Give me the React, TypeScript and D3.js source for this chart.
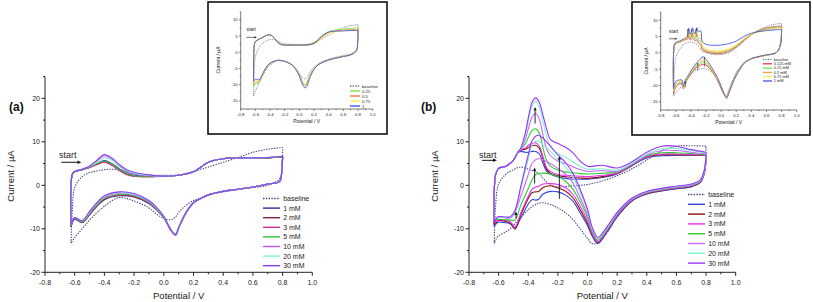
import React from "react";
import * as d3 from "d3";

const FONT = "'Liberation Sans', Arial, Helvetica, sans-serif";

// ---------- panel (a), main plot: potential grids (V) ----------
const aEFwd = [-0.625, -0.615, -0.6, -0.55, -0.5, -0.45, -0.4, -0.35, -0.3, -0.25, -0.2, -0.1, 0, 0.1, 0.2, 0.25, 0.3, 0.4, 0.5, 0.6, 0.7, 0.8];
const aERev = [0.8, 0.795, 0.78, 0.7, 0.6, 0.5, 0.4, 0.3, 0.25, 0.2, 0.15, 0.1, 0.08, 0.05, 0, -0.05, -0.1, -0.2, -0.3, -0.4, -0.45, -0.5, -0.55, -0.6, -0.625];

// currents (µA), forward sweep then reverse sweep
const aBaseFwd = [-13.3, -5.0, -0.5, 2.0, 2.9, 3.3, 3.6, 3.7, 3.5, 3.0, 2.6, 2.3, 2.3, 2.4, 3.2, 3.7, 4.2, 5.3, 6.4, 7.6, 8.3, 8.7];
const aBaseRev = [8.7, 4.0, 1.5, 0.0, -0.5, -1.0, -1.5, -2.2, -2.9, -3.5, -4.6, -6.2, -7.2, -7.9, -7.6, -6.6, -5.2, -3.6, -2.8, -4.8, -6.3, -8.0, -10.0, -12.0, -13.3];
const a1Fwd = [-9.6, 2.6, 3.1, 3.6, 4.2, 5.0, 5.7, 5.0, 3.8, 2.8, 2.3, 2.1, 2.1, 2.3, 3.1, 4.2, 5.3, 6.1, 6.3, 6.2, 6.3, 6.6];
const a1Rev = [6.6, 3.5, 0.9, 0.3, -0.4, -0.9, -1.4, -2.2, -3.0, -4.0, -6.3, -9.8, -11.3, -10.4, -7.4, -5.6, -4.2, -2.7, -2.4, -3.3, -4.8, -6.8, -8.6, -7.8, -9.6];
const a2Fwd = [-9.5, 2.6, 3.1, 3.6, 4.1, 4.8, 5.4, 4.7, 3.5, 2.5, 2.1, 2.0, 2.1, 2.3, 3.1, 4.2, 5.3, 6.1, 6.3, 6.2, 6.3, 6.6];
const a2Rev = [6.6, 3.5, 0.9, 0.3, -0.4, -0.9, -1.4, -2.2, -3.0, -4.0, -6.3, -9.9, -11.5, -10.5, -7.4, -5.5, -4.1, -2.6, -2.3, -3.2, -4.7, -6.7, -8.5, -7.7, -9.5];
const a3Fwd = [-9.4, 2.6, 3.1, 3.6, 4.1, 4.8, 5.3, 4.6, 3.4, 2.5, 2.1, 2.0, 2.1, 2.3, 3.1, 4.2, 5.3, 6.1, 6.3, 6.2, 6.3, 6.6];
const a3Rev = [6.6, 3.5, 0.9, 0.3, -0.4, -0.9, -1.4, -2.2, -3.0, -4.0, -6.3, -9.9, -11.5, -10.5, -7.4, -5.5, -4.0, -2.5, -2.2, -3.1, -4.6, -6.6, -8.4, -7.6, -9.4];
const a5Fwd = [-9.3, 2.6, 3.1, 3.6, 4.2, 5.0, 5.6, 4.9, 3.7, 2.7, 2.2, 2.1, 2.1, 2.3, 3.1, 4.2, 5.3, 6.1, 6.3, 6.2, 6.3, 6.6];
const a5Rev = [6.6, 3.5, 0.9, 0.3, -0.4, -0.9, -1.4, -2.2, -3.0, -4.0, -6.2, -9.8, -11.4, -10.4, -7.3, -5.4, -3.9, -2.4, -2.1, -3.0, -4.5, -6.5, -8.4, -7.6, -9.3];
const a10Fwd = [-9.1, 2.7, 3.2, 3.7, 4.4, 5.6, 6.8, 6.0, 4.4, 3.2, 2.6, 2.2, 2.1, 2.3, 3.1, 4.2, 5.3, 6.1, 6.3, 6.3, 6.4, 6.7];
const a10Rev = [6.7, 3.5, 0.9, 0.3, -0.4, -0.9, -1.4, -2.2, -3.0, -4.0, -6.2, -9.8, -11.4, -10.4, -7.2, -5.2, -3.7, -2.2, -1.8, -2.7, -4.2, -6.3, -8.2, -7.5, -9.1];
const a20Fwd = [-9.0, 2.7, 3.2, 3.7, 4.3, 5.3, 6.3, 5.8, 4.5, 3.4, 2.8, 2.3, 2.1, 2.3, 3.1, 4.2, 5.3, 6.1, 6.3, 6.3, 6.4, 6.7];
const a20Rev = [6.7, 3.5, 0.9, 0.3, -0.4, -0.9, -1.4, -2.2, -3.0, -4.0, -6.2, -9.8, -11.3, -10.3, -7.2, -5.2, -3.6, -2.1, -1.7, -2.6, -4.1, -6.2, -8.2, -7.4, -9.0];
const a30Fwd = [-9.0, 2.7, 3.2, 3.7, 4.4, 5.8, 7.1, 6.3, 4.8, 3.6, 3.0, 2.4, 2.1, 2.3, 3.1, 4.2, 5.3, 6.1, 6.3, 6.3, 6.4, 6.7];
const a30Rev = [6.7, 3.5, 0.9, 0.3, -0.4, -0.9, -1.4, -2.2, -3.0, -4.0, -6.2, -9.7, -11.3, -10.3, -7.1, -5.0, -3.5, -1.9, -1.5, -2.4, -3.9, -6.0, -8.1, -7.4, -9.0];

// ---------- panel (b), main plot ----------
const bEFwd = [-0.63, -0.62, -0.6, -0.55, -0.5, -0.47, -0.45, -0.42, -0.4, -0.375, -0.35, -0.325, -0.3, -0.275, -0.25, -0.2, -0.15, -0.1, -0.05, 0, 0.1, 0.2, 0.3, 0.4, 0.5, 0.6, 0.7, 0.8];
const bERev = [0.8, 0.79, 0.76, 0.7, 0.6, 0.5, 0.4, 0.3, 0.2, 0.15, 0.1, 0.07, 0.03, 0, -0.05, -0.1, -0.15, -0.2, -0.25, -0.3, -0.33, -0.35, -0.375, -0.4, -0.45, -0.49, -0.52, -0.55, -0.6, -0.615, -0.63];

const bBaseFwd = [-13.4, -4.5, 0.3, 2.6, 3.6, 4.1, 4.2, 4.0, 3.7, 3.4, 3.2, 2.6, 1.6, 0.7, 0.1, -0.4, -0.3, -0.1, 0.0, 0.2, 1.0, 2.2, 3.8, 5.8, 7.9, 9.0, 9.1, 9.0];
const bBaseRev = [9.0, 4.0, 1.0, -0.3, -0.8, -1.3, -2.0, -3.6, -7.3, -10.0, -12.4, -13.3, -13.4, -12.2, -10.0, -7.8, -6.3, -5.2, -4.4, -4.0, -4.1, -4.4, -4.9, -5.6, -7.3, -8.8, -9.9, -10.7, -11.6, -12.2, -13.4];
const b1Fwd = [-9.5, 2.5, 3.9, 4.4, 5.8, 7.5, 7.8, 7.6, 7.6, 7.8, 7.8, 7.2, 5.0, 3.2, 2.6, 1.9, 1.6, 1.4, 1.4, 1.4, 1.8, 2.6, 4.5, 6.3, 6.8, 6.9, 6.9, 6.9];
const b1Rev = [6.9, 3.0, 0.6, -0.3, -0.8, -1.3, -2.0, -3.6, -7.2, -9.8, -12.3, -13.4, -11.6, -9.3, -6.3, -3.6, -2.2, -1.5, -1.4, -2.0, -3.2, -3.4, -3.3, -4.3, -7.5, -9.8, -8.9, -8.6, -8.5, -8.8, -9.5];
const b2Fwd = [-9.0, 2.5, 3.9, 4.4, 5.8, 7.6, 8.1, 8.3, 8.7, 9.1, 9.2, 8.5, 6.0, 3.6, 2.8, 2.2, 2.0, 1.8, 1.7, 1.6, 2.0, 2.7, 4.6, 6.5, 7.0, 7.0, 7.0, 6.9];
const b2Rev = [6.9, 3.1, 0.7, -0.2, -0.7, -1.2, -1.9, -3.5, -7.0, -9.6, -12.1, -13.2, -11.3, -8.8, -5.6, -2.8, -1.3, -0.6, -0.1, -0.5, -1.4, -1.5, -1.7, -3.0, -6.8, -10.1, -8.7, -8.3, -8.1, -8.5, -9.0];
const b3Fwd = [-8.5, 2.5, 3.9, 4.4, 5.8, 7.6, 8.2, 8.6, 9.2, 9.6, 9.8, 9.0, 6.5, 4.0, 3.2, 2.5, 2.3, 2.2, 2.1, 2.0, 2.3, 2.8, 4.7, 6.6, 7.2, 7.2, 7.1, 7.0];
const b3Rev = [7.0, 3.2, 0.8, -0.1, -0.6, -1.1, -1.8, -3.4, -6.9, -9.5, -12.0, -13.0, -11.0, -8.2, -4.8, -2.0, -0.5, 0.2, 0.4, 0.3, -0.2, -0.4, -0.9, -2.5, -6.3, -9.6, -8.4, -8.1, -7.9, -8.2, -8.5];
const b5Fwd = [-8.0, 2.5, 3.9, 4.4, 5.8, 7.6, 8.3, 9.5, 11.0, 12.6, 13.0, 12.0, 8.5, 5.6, 4.4, 3.5, 3.1, 2.9, 2.7, 2.6, 2.8, 3.0, 4.8, 6.8, 7.5, 7.5, 7.3, 7.1];
const b5Rev = [7.1, 3.3, 0.9, 0.0, -0.5, -1.0, -1.7, -3.3, -6.7, -9.3, -11.7, -12.7, -10.6, -7.4, -3.8, -0.8, 1.0, 2.0, 2.6, 2.8, 2.7, 2.5, 1.2, -0.8, -4.5, -8.0, -8.0, -7.9, -7.8, -7.9, -8.0];
const b10Fwd = [-7.8, 2.5, 3.9, 4.4, 5.8, 7.6, 8.4, 10.5, 13.0, 15.6, 16.5, 15.2, 11.5, 8.3, 6.8, 5.6, 5.0, 4.3, 3.6, 3.2, 3.4, 3.2, 4.9, 7.0, 8.0, 8.0, 7.6, 7.2];
const b10Rev = [7.2, 3.4, 1.0, 0.1, -0.4, -0.9, -1.6, -3.2, -6.5, -9.0, -11.4, -12.4, -10.2, -6.8, -2.8, 0.6, 2.6, 3.9, 5.0, 5.9, 6.1, 5.9, 5.0, 2.5, -2.5, -6.3, -7.5, -7.5, -7.3, -7.5, -7.8];
const b20Fwd = [-8.3, 2.5, 3.9, 4.4, 5.8, 7.6, 8.5, 11.5, 14.8, 18.2, 19.3, 18.0, 14.5, 11.0, 8.8, 7.3, 6.5, 5.4, 4.4, 3.7, 3.8, 3.5, 5.1, 7.2, 8.4, 8.5, 8.0, 7.4];
const b20Rev = [7.4, 3.6, 1.1, 0.2, -0.3, -0.8, -1.5, -3.0, -6.3, -8.8, -11.2, -12.2, -9.8, -6.0, -1.6, 2.0, 4.3, 6.0, 7.8, 9.3, 10.1, 10.2, 9.2, 6.0, -0.8, -6.0, -7.3, -7.4, -7.3, -7.6, -8.3];
const b30Fwd = [-8.5, 2.5, 3.9, 4.4, 5.8, 7.6, 8.6, 12.0, 15.5, 19.0, 20.1, 19.0, 16.0, 12.8, 10.5, 9.6, 8.8, 7.5, 5.6, 4.4, 4.6, 4.0, 5.4, 7.6, 9.0, 9.0, 8.2, 7.6];
const b30Rev = [7.6, 3.7, 1.2, 0.3, -0.2, -0.7, -1.4, -2.9, -6.2, -8.6, -11.0, -12.0, -9.5, -5.5, -0.9, 2.8, 5.3, 7.0, 9.0, 10.8, 11.5, 11.3, 10.2, 7.0, -0.2, -5.8, -7.2, -7.3, -7.2, -7.6, -8.5];

// ---------- inset of panel (a): uses the aEFwd / aERev grids ----------
const iaBaseFwd = [-13.5, -6, -1.5, 1.5, 2.8, 3.5, 3.9, 4.0, 3.6, 2.9, 2.6, 2.4, 2.3, 2.4, 3.0, 3.5, 4.0, 5.3, 6.5, 7.6, 8.2, 8.5];
const iaBaseRev = [8.5, 3, 0.8, -0.5, -1.0, -1.5, -2.1, -3.0, -3.7, -4.6, -6.0, -7.8, -8.3, -8.0, -6.5, -5.0, -3.9, -2.9, -2.7, -4.0, -5.3, -7.2, -9.5, -12.0, -13.5];
const ia025Fwd = [-10.5, 2.0, 3.3, 4.0, 4.6, 5.2, 5.4, 4.6, 3.2, 2.4, 2.2, 2.2, 2.2, 2.3, 3.0, 4.0, 5.0, 6.4, 6.9, 7.2, 7.4, 7.5];
const ia025Rev = [7.5, 3, 0.5, -0.8, -1.3, -1.8, -2.4, -3.3, -4.0, -5.0, -6.8, -9.4, -10.0, -9.4, -6.8, -5.0, -3.9, -2.8, -2.5, -3.5, -4.8, -7.0, -9.3, -9.8, -10.5];
const ia05Fwd = [-10.0, 2.0, 3.3, 4.0, 4.6, 5.1, 5.3, 4.5, 3.1, 2.4, 2.2, 2.2, 2.2, 2.2, 2.8, 3.6, 4.6, 6.1, 6.6, 6.8, 7.0, 7.1];
const ia05Rev = [7.1, 3, 0.5, -0.8, -1.3, -1.8, -2.4, -3.3, -4.0, -5.1, -7.0, -9.8, -10.3, -9.7, -7.0, -5.1, -3.9, -2.8, -2.5, -3.4, -4.7, -7.0, -9.0, -9.3, -10.0];
const ia075Fwd = [-9.5, 2.0, 3.2, 3.9, 4.5, 5.1, 5.3, 4.5, 3.1, 2.3, 2.1, 2.1, 2.1, 2.1, 2.6, 3.3, 4.2, 5.8, 6.4, 6.6, 6.7, 6.8];
const ia075Rev = [6.8, 3, 0.5, -0.8, -1.3, -1.8, -2.4, -3.3, -4.0, -5.2, -7.2, -10.2, -10.6, -10.0, -7.2, -5.2, -3.9, -2.8, -2.5, -3.4, -4.6, -6.8, -8.8, -8.9, -9.5];
const ia1Fwd = [-9.0, 2.0, 3.3, 4.0, 4.6, 5.2, 5.4, 4.6, 3.2, 2.4, 2.2, 2.2, 2.2, 2.2, 2.7, 3.5, 4.8, 6.2, 6.5, 6.6, 6.7, 6.7];
const ia1Rev = [6.7, 3, 0.5, -0.8, -1.3, -1.8, -2.4, -3.3, -4.0, -5.3, -7.5, -10.6, -11.0, -10.3, -7.4, -5.3, -3.9, -2.8, -2.5, -3.4, -4.5, -6.6, -8.5, -8.3, -9.0];

// ---------- inset of panel (b) ----------
const ibEFwd = [-0.63, -0.62, -0.6, -0.55, -0.5, -0.45, -0.43, -0.41, -0.38, -0.35, -0.32, -0.3, -0.27, -0.25, -0.2, -0.1, 0, 0.1, 0.2, 0.3, 0.4, 0.5, 0.6, 0.7, 0.8];
const ibERev = [0.8, 0.79, 0.75, 0.7, 0.6, 0.5, 0.4, 0.3, 0.25, 0.2, 0.15, 0.1, 0.07, 0.03, 0, -0.05, -0.1, -0.15, -0.2, -0.24, -0.3, -0.35, -0.4, -0.45, -0.47, -0.5, -0.52, -0.55, -0.6, -0.63];
const ibBaseFwd = [-13.3, -6.0, -1.5, 1.0, 2.5, 3.2, 3.3, 3.3, 3.2, 3.0, 2.6, 2.0, 1.0, 0.5, 0.0, -0.5, -0.5, 0.0, 1.5, 3.5, 5.5, 7.0, 8.0, 8.7, 9.0];
const ibBaseRev = [9.0, 3.5, 0.5, -0.3, -0.7, -1.2, -1.8, -3.0, -4.5, -6.0, -8.5, -11.5, -13.0, -12.5, -11.0, -8.5, -6.5, -5.5, -5.0, -4.8, -5.0, -5.5, -6.5, -7.8, -8.5, -9.5, -10.0, -11.0, -12.2, -13.3];
const ib0125Fwd = [-12.5, 2.0, 2.8, 3.2, 3.8, 4.2, 4.6, 4.0, 4.5, 3.8, 4.0, 3.0, 2.5, 1.0, 0.3, -0.2, -0.2, 0.4, 1.8, 3.8, 5.6, 6.8, 7.6, 8.0, 8.2];
const ib0125Rev = [8.2, 3.3, 0.5, -0.3, -0.7, -1.2, -1.8, -3.1, -4.6, -6.5, -9.0, -12.0, -13.5, -12.3, -10.8, -8.2, -6.3, -4.8, -3.8, -3.5, -4.2, -5.0, -6.5, -8.3, -9.0, -11.0, -9.5, -9.5, -10.5, -12.5];
const ib025Fwd = [-12.0, 2.1, 2.9, 3.3, 3.9, 4.4, 5.4, 4.3, 5.3, 4.2, 5.0, 3.8, 3.6, 1.5, 0.6, 0.1, 0.1, 0.7, 2.0, 4.0, 5.6, 6.7, 7.4, 7.8, 8.0];
const ib025Rev = [8.0, 3.2, 0.5, -0.3, -0.7, -1.2, -1.8, -3.1, -4.7, -6.6, -9.1, -12.2, -13.6, -12.2, -10.6, -8.0, -6.1, -4.5, -3.3, -2.9, -3.8, -4.7, -6.2, -8.1, -8.7, -10.8, -9.2, -9.2, -10.0, -12.0];
const ib05Fwd = [-11.8, 2.1, 2.9, 3.3, 3.9, 4.5, 6.0, 4.6, 6.0, 4.6, 5.8, 4.4, 4.5, 1.8, 0.8, 0.3, 0.3, 0.9, 2.2, 4.1, 5.6, 6.5, 7.1, 7.5, 7.8];
const ib05Rev = [7.8, 3.2, 0.5, -0.3, -0.7, -1.2, -1.8, -3.2, -4.8, -6.7, -9.2, -12.3, -13.7, -12.1, -10.5, -7.9, -5.9, -4.2, -2.9, -2.4, -3.4, -4.4, -6.0, -7.9, -8.5, -10.6, -8.9, -8.9, -9.6, -11.8];
const ib075Fwd = [-11.5, 2.2, 3.0, 3.4, 4.0, 4.7, 6.8, 5.0, 6.8, 5.1, 6.7, 5.3, 5.5, 2.3, 1.2, 0.7, 0.7, 1.3, 2.5, 4.3, 5.7, 6.4, 6.9, 7.2, 7.5];
const ib075Rev = [7.5, 3.1, 0.5, -0.2, -0.6, -1.1, -1.8, -3.2, -4.9, -6.8, -9.3, -12.4, -13.8, -12.0, -10.3, -7.7, -5.7, -3.9, -2.5, -1.8, -3.0, -4.1, -5.8, -7.7, -8.3, -10.4, -8.6, -8.6, -9.1, -11.5];
const ib1Fwd = [-11.0, 2.4, 3.2, 3.6, 4.2, 5.0, 7.6, 5.6, 7.7, 5.8, 7.7, 6.4, 6.8, 3.5, 2.6, 2.3, 2.4, 2.8, 3.6, 5.0, 6.0, 6.5, 6.8, 7.0, 7.2];
const ib1Rev = [7.2, 3.0, 0.5, -0.2, -0.6, -1.1, -1.8, -3.3, -5.0, -7.0, -9.5, -12.5, -13.9, -12.0, -10.2, -7.5, -5.5, -3.5, -2.0, -1.2, -2.5, -3.8, -5.5, -7.5, -8.0, -10.2, -8.3, -8.3, -8.7, -11.0];

// tick values
const mainXTicks = [-0.8, -0.6, -0.4, -0.2, 0.0, 0.2, 0.4, 0.6, 0.8, 1.0];
const mainXMinor = [-0.7, -0.5, -0.3, -0.1, 0.1, 0.3, 0.5, 0.7, 0.9];
const mainYTicks = [-20, -10, 0, 10, 20];
const mainYMinor = [-15, -5, 5, 15, 25];
const insetYTicks = [-15, -10, -5, 0, 5, 10];
const insetYMinor = [-12.5, -7.5, -2.5, 2.5, 7.5, 12.5];

type Series = { name: string; color: string; fwd: number[]; rev: number[]; dotted?: boolean };

const seriesA: Series[] = [
  { name: "baseline", color: "#3c3c7a", dotted: true, fwd: aBaseFwd, rev: aBaseRev },
  { name: "1 mM", color: "#2c2ca6", fwd: a1Fwd, rev: a1Rev },
  { name: "2 mM", color: "#8b1c40", fwd: a2Fwd, rev: a2Rev },
  { name: "3 mM", color: "#d42a9a", fwd: a3Fwd, rev: a3Rev },
  { name: "5 mM", color: "#33c433", fwd: a5Fwd, rev: a5Rev },
  { name: "10 mM", color: "#c050f0", fwd: a10Fwd, rev: a10Rev },
  { name: "20 mM", color: "#7ff2cf", fwd: a20Fwd, rev: a20Rev },
  { name: "30 mM", color: "#8a3cf5", fwd: a30Fwd, rev: a30Rev },
];
const seriesB: Series[] = [
  { name: "baseline", color: "#3c3c7a", dotted: true, fwd: bBaseFwd, rev: bBaseRev },
  { name: "1 mM", color: "#3344dd", fwd: b1Fwd, rev: b1Rev },
  { name: "2 mM", color: "#8c1010", fwd: b2Fwd, rev: b2Rev },
  { name: "3 mM", color: "#e633e6", fwd: b3Fwd, rev: b3Rev },
  { name: "5 mM", color: "#2ecc2e", fwd: b5Fwd, rev: b5Rev },
  { name: "10 mM", color: "#cc66ff", fwd: b10Fwd, rev: b10Rev },
  { name: "20 mM", color: "#80f2d5", fwd: b20Fwd, rev: b20Rev },
  { name: "30 mM", color: "#9933ff", fwd: b30Fwd, rev: b30Rev },
];
const seriesIA: Series[] = [
  { name: "baseline", color: "#666666", dotted: true, fwd: iaBaseFwd, rev: iaBaseRev },
  { name: "0.25", color: "#66ee33", fwd: ia025Fwd, rev: ia025Rev },
  { name: "0.5", color: "#ff6a3a", fwd: ia05Fwd, rev: ia05Rev },
  { name: "0.75", color: "#ffee33", fwd: ia075Fwd, rev: ia075Rev },
  { name: "1", color: "#3344ff", fwd: ia1Fwd, rev: ia1Rev },
];
const seriesIB: Series[] = [
  { name: "baseline", color: "#666666", dotted: true, fwd: ibBaseFwd, rev: ibBaseRev },
  { name: "0.125 mM", color: "#e8203a", fwd: ib0125Fwd, rev: ib0125Rev },
  { name: "0.25 mM", color: "#55e055", fwd: ib025Fwd, rev: ib025Rev },
  { name: "0.5 mM", color: "#ff9944", fwd: ib05Fwd, rev: ib05Rev },
  { name: "0.75 mM", color: "#ffee44", fwd: ib075Fwd, rev: ib075Rev },
  { name: "1 mM", color: "#3344ee", fwd: ib1Fwd, rev: ib1Rev },
];

// arrows marking growth with concentration: [potential, from, to]
const arrowsB = [[-0.354, 14.2, 18.0], [-0.357, 0.4, 4.1], [-0.19, -3.1, 6.7], [-0.483, -7.6, -6.0]];
const arrowsIB = [[-0.44, 4.8, 7.3], [-0.385, 4.8, 7.3], [-0.33, 5.0, 7.5], [-0.31, -5.5, -3.0], [-0.22, -4.2, -1.2], [-0.47, -10.5, -8.7]];

type Lin = d3.ScaleLinear<number, number>;

function Curves({ x, y, eFwd, eRev, series, sw }: { x: Lin; y: Lin; eFwd: number[]; eRev: number[]; series: Series[]; sw: number }) {
  const line = d3.line<[number, number]>()
    .x((d) => x(d[0]))
    .y((d) => y(d[1]))
    .curve(d3.curveCatmullRom.alpha(0.5));
  return (
    <g fill="none" strokeLinejoin="round">
      {series.map((s) => {
        const pts: [number, number][] = [
          ...eFwd.map((e, i) => [e, s.fwd[i]] as [number, number]),
          ...eRev.map((e, i) => [e, s.rev[i]] as [number, number]),
        ];
        return (
          <path key={s.name} d={line(pts) || ""} stroke={s.color} strokeWidth={sw}
            strokeDasharray={s.dotted ? `${sw * 1.2} ${sw * 1.2}` : undefined} />
        );
      })}
    </g>
  );
}

function Axes({ x, y, xTicks, xMinor, yTicks, yMinor, fs, major, minor, xLabelGap, yLabelGap, digitsX }:
  { x: Lin; y: Lin; xTicks: number[]; xMinor: number[]; yTicks: number[]; yMinor: number[]; fs: number; major: number; minor: number; xLabelGap: number; yLabelGap: number; digitsX: number }) {
  const [x0, x1] = x.range();
  const [y0, y1] = y.range();
  const sw = fs > 6 ? 1 : 0.6;
  return (
    <g>
      <g stroke="#222" strokeWidth={sw}>
        <line x1={x0} x2={x0} y1={y0} y2={y1} />
        <line x1={x0} x2={x1} y1={y0} y2={y0} />
        {xTicks.map((v) => <line key={"xt" + v} x1={x(v)} x2={x(v)} y1={y0} y2={y0 + major} />)}
        {xMinor.map((v) => <line key={"xm" + v} x1={x(v)} x2={x(v)} y1={y0} y2={y0 + minor} />)}
        {yTicks.map((v) => <line key={"yt" + v} x1={x0} x2={x0 - major} y1={y(v)} y2={y(v)} />)}
        {yMinor.map((v) => <line key={"ym" + v} x1={x0} x2={x0 - minor} y1={y(v)} y2={y(v)} />)}
      </g>
      <g fontFamily={FONT} fontSize={fs} fill="#222">
        {xTicks.map((v) => (
          <text key={"xl" + v} x={x(v)} y={y0 + xLabelGap} textAnchor="middle">{v.toFixed(digitsX)}</text>
        ))}
        {yTicks.map((v) => (
          <text key={"yl" + v} x={x0 - yLabelGap} y={y(v)} dy="0.35em" textAnchor="end">{String(v)}</text>
        ))}
      </g>
    </g>
  );
}

function Legend({ series, x, y0, step, len, fs, sw }: { series: Series[]; x: number; y0: number; step: number; len: number; fs: number; sw: number }) {
  return (
    <g fontFamily={FONT} fontSize={fs} fill="#222">
      {series.map((s, i) => {
        const yy = y0 + i * step;
        return (
          <g key={s.name}>
            <line x1={x} x2={x + len} y1={yy} y2={yy} stroke={s.color} strokeWidth={sw}
              strokeDasharray={s.dotted ? `${sw} ${sw}` : undefined} />
            <text x={x + len + fs * 0.45} y={yy} dy="0.35em">{s.name}</text>
          </g>
        );
      })}
    </g>
  );
}

function Arrow({ x1, y1, x2, y2, head, sw }: { x1: number; y1: number; x2: number; y2: number; head: number; sw: number }) {
  const ang = Math.atan2(y2 - y1, x2 - x1);
  const bx = x2 - head * Math.cos(ang);
  const by = y2 - head * Math.sin(ang);
  const w = head * 0.45;
  const px = -Math.sin(ang) * w;
  const py = Math.cos(ang) * w;
  return (
    <g>
      <line x1={x1} y1={y1} x2={bx} y2={by} stroke="#111" strokeWidth={sw} />
      <polygon points={`${x2},${y2} ${bx + px},${by + py} ${bx - px},${by - py}`} fill="#111" />
    </g>
  );
}

export default function App() {
  // main panels
  const xA = d3.scaleLinear().domain([-0.8, 1.0]).range([45, 312.3]);
  const xB = d3.scaleLinear().domain([-0.8, 1.0]).range([469, 735.7]);
  const yMain = d3.scaleLinear().domain([-20, 25]).range([272.3, 76.6]);
  // insets
  const xIA = d3.scaleLinear().domain([-0.8, 1.0]).range([240.7, 372.7]);
  const yIA = d3.scaleLinear().domain([-17.5, 12.5]).range([109, 11.7]);
  const xIB = d3.scaleLinear().domain([-0.8, 1.0]).range([660.7, 796.7]);
  const yIB = d3.scaleLinear().domain([-17.5, 12.5]).range([110, 12]);

  const mainAxes = { xTicks: mainXTicks, xMinor: mainXMinor, yTicks: mainYTicks, yMinor: mainYMinor, fs: 7, major: 3.5, minor: 2, xLabelGap: 12.5, yLabelGap: 5, digitsX: 1 };
  const insetAxes = { xTicks: mainXTicks, xMinor: mainXMinor, yTicks: insetYTicks, yMinor: insetYMinor, fs: 4.3, major: 1.8, minor: 1, xLabelGap: 6.5, yLabelGap: 3, digitsX: 1 };

  return (
    <svg width={813} height={302} viewBox="0 0 813 302"
      style={{ position: "absolute", left: 0, top: 0, background: "#fff" }}>
      <rect x={0} y={0} width={813} height={302} fill="#fff" />

      {/* ---------- panel (a) ---------- */}
      <text x={9} y={111} fontFamily={FONT} fontSize={12} fontWeight="bold" fill="#111">(a)</text>
      <Axes x={xA} y={yMain} {...mainAxes} />
      <Curves x={xA} y={yMain} eFwd={aEFwd} eRev={aERev} series={seriesA} sw={1.1} />
      <Legend series={seriesA} x={263} y0={198.5} step={9.6} len={17} fs={7} sw={1.4} />
      <text x={xA(-0.706)} y={yMain(6.3)} fontFamily={FONT} fontSize={9} fill="#222">start</text>
      <Arrow x1={xA(-0.69)} y1={yMain(5.3)} x2={xA(-0.555)} y2={yMain(5.3)} head={4} sw={1} />
      <text x={(45 + 312.3) / 2} y={299} textAnchor="middle" fontFamily={FONT} fontSize={9.5} fill="#222">Potential / V</text>
      <text transform="translate(14,176) rotate(-90)" textAnchor="middle" fontFamily={FONT} fontSize={9.5} fill="#222">Current / µA</text>

      {/* inset (a) */}
      <rect x={208} y={2} width={179} height={132} fill="#fff" stroke="#111" strokeWidth={1.6} />
      <Axes x={xIA} y={yIA} {...insetAxes} />
      <Curves x={xIA} y={yIA} eFwd={aEFwd} eRev={aERev} series={seriesIA} sw={0.8} />
      <Legend series={seriesIA} x={350} y0={86} step={5} len={10} fs={4.3} sw={1.3} />
      <text x={xIA(-0.72)} y={yIA(6.6)} fontFamily={FONT} fontSize={4.8} fill="#222">start</text>
      <Arrow x1={xIA(-0.72)} y1={yIA(4.6)} x2={xIA(-0.58)} y2={yIA(4.6)} head={2.5} sw={0.6} />
      <text x={(240.7 + 372.7) / 2} y={123} textAnchor="middle" fontFamily={FONT} fontSize={5} fill="#222">Potential / V</text>
      <text transform="translate(220,60) rotate(-90)" textAnchor="middle" fontFamily={FONT} fontSize={5} fill="#222">Current / µA</text>

      {/* ---------- panel (b) ---------- */}
      <text x={421} y={111} fontFamily={FONT} fontSize={12} fontWeight="bold" fill="#111">(b)</text>
      <Axes x={xB} y={yMain} {...mainAxes} />
      <Curves x={xB} y={yMain} eFwd={bEFwd} eRev={bERev} series={seriesB} sw={1.1} />
      {arrowsB.map(([e, a, b], i) => (
        <Arrow key={i} x1={xB(e)} y1={yMain(a)} x2={xB(e)} y2={yMain(b)} head={3.5} sw={0.9} />
      ))}
      <Legend series={seriesB} x={688} y0={194.5} step={9.8} len={17} fs={7} sw={1.4} />
      <text x={xB(-0.733)} y={yMain(6.3)} fontFamily={FONT} fontSize={9} fill="#222">start</text>
      <Arrow x1={xB(-0.712)} y1={yMain(5.75)} x2={xB(-0.611)} y2={yMain(5.75)} head={4} sw={1} />
      <text x={(469 + 735.7) / 2} y={299} textAnchor="middle" fontFamily={FONT} fontSize={9.5} fill="#222">Potential / V</text>
      <text transform="translate(438,176) rotate(-90)" textAnchor="middle" fontFamily={FONT} fontSize={9.5} fill="#222">Current / µA</text>

      {/* inset (b) */}
      <rect x={632} y={2} width={178} height={133} fill="#fff" stroke="#111" strokeWidth={1.6} />
      <Axes x={xIB} y={yIB} {...insetAxes} />
      <Curves x={xIB} y={yIB} eFwd={ibEFwd} eRev={ibERev} series={seriesIB} sw={0.8} />
      {arrowsIB.map(([e, a, b], i) => (
        <Arrow key={i} x1={xIB(e)} y1={yIB(a)} x2={xIB(e)} y2={yIB(b)} head={1.8} sw={0.5} />
      ))}
      <Legend series={seriesIB} x={763} y0={59.5} step={4.3} len={9} fs={3.9} sw={1.2} />
      <text x={xIB(-0.69)} y={yIB(6.2)} fontFamily={FONT} fontSize={4.8} fill="#222">start</text>
      <Arrow x1={xIB(-0.69)} y1={yIB(4.3)} x2={xIB(-0.58)} y2={yIB(4.3)} head={2.2} sw={0.6} />
      <text x={(660.7 + 796.7) / 2} y={123.5} textAnchor="middle" fontFamily={FONT} fontSize={5} fill="#222">Potential / V</text>
      <text transform="translate(648,61) rotate(-90)" textAnchor="middle" fontFamily={FONT} fontSize={5} fill="#222">Current / µA</text>
    </svg>
  );
}
